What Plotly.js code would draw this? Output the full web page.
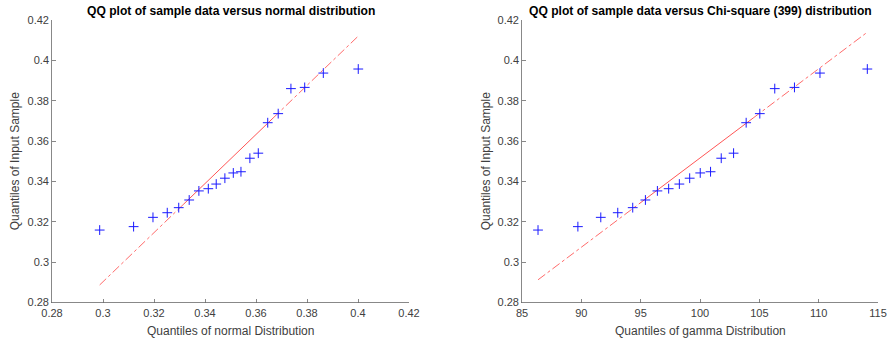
<!DOCTYPE html>
<html>
<head>
<meta charset="utf-8">
<script src="https://cdn.plot.ly/plotly-3.0.1.min.js"></script>
<style>html,body{margin:0;padding:0;background:#fff}#chart{width:889px;height:341px}</style>
</head>
<body>
<div id="chart"></div>
<script>
// Sample quantiles (sorted data), shared by both panels
const sampleQuantiles = [0.3159, 0.3176, 0.3222, 0.3245, 0.3270, 0.3308, 0.3353, 0.3364, 0.3387, 0.3416,
                         0.3442, 0.3448, 0.3515, 0.3540, 0.3691, 0.3736, 0.3860, 0.3866, 0.3937, 0.3957];
// Theoretical quantiles, normal distribution
const normalQuantiles = [0.2987, 0.3120, 0.3196, 0.3252, 0.3297, 0.3338, 0.3376, 0.3413, 0.3444, 0.3478,
                         0.3511, 0.3541, 0.3576, 0.3609, 0.3646, 0.3687, 0.3737, 0.3791, 0.3864, 0.4001];
// Theoretical quantiles, gamma / chi-square(399) distribution
const gammaQuantiles = [86.35, 89.71, 91.64, 93.07, 94.33, 95.40, 96.41, 97.36, 98.26, 99.13,
                        100.02, 100.89, 101.79, 102.83, 103.89, 105.04, 106.30, 107.96, 110.11, 114.10];

const titles = ['QQ plot of sample data versus normal distribution',
                'QQ plot of sample data versus Chi-square (399) distribution'];
const xTitles = ['Quantiles of normal Distribution', 'Quantiles of gamma Distribution'];
const yTitle = 'Quantiles of Input Sample';
const xTicks1 = [0.28, 0.30, 0.32, 0.34, 0.36, 0.38, 0.40, 0.42];
const xTicks2 = [85, 90, 95, 100, 105, 110, 115];
const yTicks = [0.28, 0.30, 0.32, 0.34, 0.36, 0.38, 0.40, 0.42];

function pct(arr, p) { // MATLAB-style prctile
  const s = arr.slice().sort((a, b) => a - b), n = s.length;
  let pos = p * n + 0.5;
  if (pos <= 1) return s[0];
  if (pos >= n) return s[n - 1];
  const i = Math.floor(pos), f = pos - i;
  return s[i - 1] + f * (s[i] - s[i - 1]);
}

function qqTraces(xq, yq, xa, ya) {
  const x1 = pct(xq, 0.25), x3 = pct(xq, 0.75);
  const y1 = pct(yq, 0.25), y3 = pct(yq, 0.75);
  const slope = (y3 - y1) / (x3 - x1);
  const f = x => y1 + slope * (x - x1);
  const xmin = Math.min(...xq), xmax = Math.max(...xq);
  const red = '#ff2a2a';
  const base = {type: 'scatter', mode: 'lines', xaxis: xa, yaxis: ya, hoverinfo: 'skip', showlegend: false};
  return [
    Object.assign({}, base, {x: [xmin, x1], y: [f(xmin), f(x1)], line: {color: red, width: 0.7, dash: 'dashdot'}}),
    Object.assign({}, base, {x: [x1, x3], y: [f(x1), f(x3)], line: {color: red, width: 0.8}}),
    Object.assign({}, base, {x: [x3, xmax], y: [f(x3), f(xmax)], line: {color: red, width: 0.7, dash: 'dashdot'}}),
    {type: 'scatter', mode: 'markers', x: xq, y: yq, xaxis: xa, yaxis: ya, showlegend: false,
     marker: {symbol: 'cross-thin-open', size: 7, color: '#1a1aff', line: {color: '#1a1aff', width: 1}}}
  ];
}

const data = [].concat(
  qqTraces(normalQuantiles, sampleQuantiles, 'x', 'y'),
  qqTraces(gammaQuantiles, sampleQuantiles, 'x2', 'y2')
);

const W = 889, H = 341;
const L1 = 52, R1 = 409, L2 = 522, R2 = 878, T = 20, B = 302.5;
const FONT = 'Liberation Sans, Arial, sans-serif';
const axisCommon = {
  showgrid: false, zeroline: false, showline: true, linecolor: '#6a6a6a', linewidth: 0.8,
  ticks: 'inside', ticklen: 4, tickcolor: '#6a6a6a', tickwidth: 0.8, mirror: false,
  tickfont: {family: FONT, size: 11, color: '#404040'},
  fixedrange: true
};
const yd = [1 - B / H, 1 - T / H];
const fmt = v => String(+v.toFixed(2));
const layout = {
  width: W, height: H, margin: {l: 0, r: 0, t: 0, b: 0},
  paper_bgcolor: '#fff', plot_bgcolor: '#fff', showlegend: false,
  xaxis: Object.assign({}, axisCommon, {domain: [L1 / W, R1 / W], range: [0.28, 0.42], tickvals: xTicks1, ticktext: xTicks1.map(fmt), anchor: 'y'}),
  yaxis: Object.assign({}, axisCommon, {domain: yd, range: [0.28, 0.42], tickvals: yTicks, ticktext: yTicks.map(fmt), anchor: 'x'}),
  xaxis2: Object.assign({}, axisCommon, {domain: [L2 / W, R2 / W], range: [85, 115], tickvals: xTicks2, anchor: 'y2'}),
  yaxis2: Object.assign({}, axisCommon, {domain: yd, range: [0.28, 0.42], tickvals: yTicks, ticktext: yTicks.map(fmt), anchor: 'x2'}),
  annotations: [
    {text: '<b>' + titles[0] + '</b>', x: (L1 + R1) / 2 / W, y: 1 - 11 / H, xref: 'paper', yref: 'paper', showarrow: false, xanchor: 'center', yanchor: 'middle', font: {family: FONT, size: 12.1, color: '#000'}},
    {text: '<b>' + titles[1] + '</b>', x: (L2 + R2) / 2 / W, y: 1 - 11 / H, xref: 'paper', yref: 'paper', showarrow: false, xanchor: 'center', yanchor: 'middle', font: {family: FONT, size: 12.1, color: '#000'}},
    {text: xTitles[0], x: (L1 + R1) / 2 / W, y: 1 - 331 / H, xref: 'paper', yref: 'paper', showarrow: false, xanchor: 'center', yanchor: 'middle', font: {family: FONT, size: 12, color: '#404040'}},
    {text: xTitles[1], x: (L2 + R2) / 2 / W, y: 1 - 331 / H, xref: 'paper', yref: 'paper', showarrow: false, xanchor: 'center', yanchor: 'middle', font: {family: FONT, size: 12, color: '#404040'}},
    {text: yTitle, x: 15 / W, y: 1 - (T + B) / 2 / H, xref: 'paper', yref: 'paper', showarrow: false, textangle: -90, xanchor: 'center', yanchor: 'middle', font: {family: FONT, size: 12, color: '#404040'}},
    {text: yTitle, x: 486 / W, y: 1 - (T + B) / 2 / H, xref: 'paper', yref: 'paper', showarrow: false, textangle: -90, xanchor: 'center', yanchor: 'middle', font: {family: FONT, size: 12, color: '#404040'}}
  ]
};
Plotly.newPlot('chart', data, layout, {staticPlot: true, displayModeBar: false});
</script>
</body>
</html>
